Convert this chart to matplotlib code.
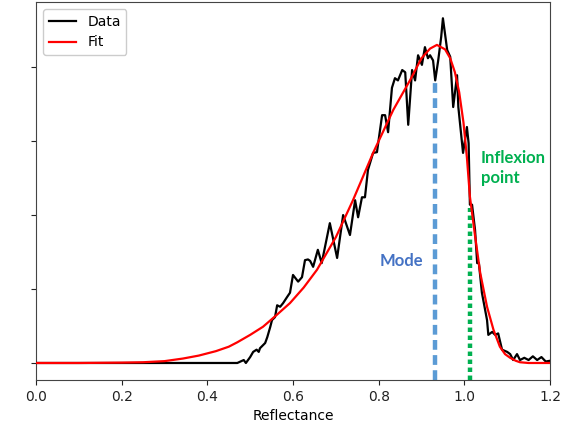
import matplotlib
matplotlib.use("Agg")
import matplotlib.pyplot as plt

# ---- data ----
data_x = [0.0, 0.47, 0.485, 0.49, 0.50, 0.507, 0.515, 0.52, 0.523, 0.535, 0.54, 0.547, 0.551,
          0.558, 0.563, 0.57, 0.577, 0.586, 0.593, 0.60, 0.612, 0.621, 0.628, 0.635, 0.64,
          0.647, 0.658, 0.667, 0.686, 0.703, 0.717, 0.733, 0.745, 0.752, 0.761, 0.768, 0.775,
          0.787, 0.796, 0.808, 0.815, 0.822, 0.831, 0.838, 0.845, 0.855, 0.862, 0.869, 0.878,
          0.885, 0.892, 0.901, 0.908, 0.915, 0.92, 0.927, 0.932, 0.939, 0.946, 0.95, 0.96,
          0.967, 0.974, 0.983, 0.986, 0.997, 1.006, 1.01, 1.013, 1.018, 1.025, 1.03, 1.034,
          1.041, 1.053, 1.056, 1.065, 1.072, 1.079, 1.088, 1.10, 1.107, 1.114, 1.123, 1.13,
          1.14, 1.15, 1.16, 1.17, 1.18, 1.19, 1.2]
data_y = [0.0, 0.0, 0.04, 0.0, 0.08, 0.15, 0.18, 0.15, 0.2, 0.27, 0.35, 0.49, 0.58,
          0.62, 0.78, 0.76, 0.81, 0.89, 0.95, 1.19, 1.10, 1.16, 1.39, 1.40, 1.38,
          1.30, 1.53, 1.35, 1.89, 1.42, 2.0, 1.73, 2.2, 1.97, 2.24, 2.24, 2.61,
          2.84, 2.85, 3.35, 3.35, 3.12, 3.72, 3.85, 3.82, 3.96, 3.93, 3.22, 3.96,
          3.82, 4.16, 4.03, 4.27, 4.12, 4.16, 4.09, 3.82, 4.09, 4.41, 4.66, 4.23,
          4.14, 3.46, 3.89, 3.46, 2.84, 3.19, 2.97, 2.14, 2.14, 1.80, 1.35, 1.35,
          0.95, 0.58, 0.38, 0.42, 0.38, 0.40, 0.18, 0.15, 0.12, 0.04, 0.12, 0.04,
          0.07, 0.04, 0.09, 0.04, 0.08, 0.02, 0.03]

fit_x = [0.0, 0.1, 0.2, 0.25, 0.3, 0.343, 0.38, 0.42, 0.45, 0.47, 0.5, 0.53, 0.562, 0.593,
         0.625, 0.656, 0.70, 0.74, 0.787, 0.834, 0.873, 0.90, 0.92, 0.936, 0.955, 0.967,
         0.978, 0.988, 0.998, 1.006, 1.013, 1.025, 1.037, 1.053, 1.068, 1.083, 1.095, 1.107,
         1.12, 1.13, 1.15, 1.2]
fit_y = [0.0, 0.0, 0.005, 0.01, 0.025, 0.06, 0.1, 0.16, 0.22, 0.28, 0.38, 0.49, 0.65, 0.81,
         1.02, 1.26, 1.7, 2.2, 2.84, 3.42, 3.82, 4.12, 4.25, 4.3, 4.24, 4.12,
         3.93, 3.66, 3.25, 2.78, 2.25, 1.72, 1.22, 0.76, 0.45, 0.22, 0.12, 0.07,
         0.03, 0.01, 0.0, 0.0]

x_ticks = [0.0, 0.2, 0.4, 0.6, 0.8, 1.0, 1.2]
x_tick_labels = ["0.0", "0.2", "0.4", "0.6", "0.8", "1.0", "1.2"]
y_ticks = [0, 1, 2, 3, 4]

mode_x = 0.932
mode_top = 3.85
inflex_x = 1.013
inflex_top = 2.1

fig = plt.figure(figsize=(5.71, 4.25), dpi=100)
ax = fig.add_axes([36 / 571, 45 / 425, 514 / 571, 378 / 425])

ax.set_xlim(0.0, 1.2)
ax.set_ylim(-0.23, 4.88)

ax.plot(data_x, data_y, color="black", lw=1.6, label="Data", zorder=3)
ax.plot(fit_x, fit_y, color="red", lw=1.6, label="Fit", zorder=4)

ax.plot([mode_x, mode_x], [-0.23, mode_top], color="#5B9BD5", lw=3.2,
        linestyle=(0, (2.2, 1.2)), solid_capstyle="butt", dash_capstyle="butt", zorder=2)
ax.plot([inflex_x, inflex_x], [-0.23, inflex_top], color="#00B050", lw=3.2,
        linestyle=(0, (1.0, 0.8)), dash_capstyle="butt", zorder=2)

ax.text(0.853, 1.38, "Mode", color="#4472C4", fontsize=12, fontweight="bold",
        family=["Lato", "DejaVu Sans"], ha="center", va="center")
ax.text(1.039, 2.64, "Inflexion\npoint", color="#00B050", fontsize=12, fontweight="bold",
        family=["Lato", "DejaVu Sans"], ha="left", va="center", linespacing=1.3)

ax.set_xticks(x_ticks)
ax.set_xticklabels(x_tick_labels)
ax.set_yticks(y_ticks)
ax.set_yticklabels([])
ax.tick_params(labelsize=10, colors="#222222")
for s in ax.spines.values():
    s.set_color("#444444")
ax.set_xlabel("Reflectance", fontsize=10, labelpad=4)

ax.legend(loc="upper left", fontsize=10, framealpha=1.0, borderaxespad=0.5)

fig.savefig("out.png", dpi=100)
